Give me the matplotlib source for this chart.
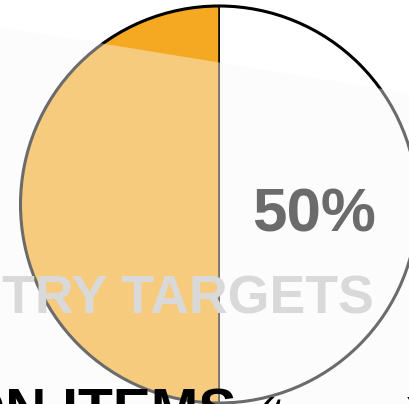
import matplotlib
matplotlib.use('Agg')
import matplotlib.pyplot as plt
from matplotlib.patches import Circle, Polygon

plt.rcParams['font.family'] = ['Liberation Sans', 'DejaVu Sans']

# share of the target that is met vs. still open
labels = ['met', 'open']
shares = [50, 50]
colors = ['#FFFFFF', '#F5A922']

title = 'TRY TARGETS'
footer = 'ACTION ITEMS'
footer_note = '(tonnes)'

W, H = 409, 404
fig = plt.figure(figsize=(W / 100, H / 100), dpi=100)
ax = fig.add_axes([0, 0, 1, 1])

cx, cy, r = 219, 404 - 204.5, 198.5
ax.pie(shares, colors=colors, startangle=90, counterclock=False,
       center=(cx, cy), radius=r,
       wedgeprops=dict(edgecolor='black', linewidth=1.1))
ax.add_patch(Circle((cx, cy), r, fill=False, edgecolor='black',
                    linewidth=2.2, zorder=2))

# light haze band over the lower part of the graphic
ax.add_patch(Polygon([(0, 377), (W, 310.7), (W, 0), (0, 0)],
                     closed=True, facecolor='#F9F9F9', edgecolor='none',
                     alpha=0.43, zorder=3))

ax.text(314, 172, f'{shares[0]}%', ha='center', va='baseline',
        fontsize=44.6, fontweight='bold', color='#6B6B6B', zorder=4)
ax.text(374, 90, title, ha='right', va='baseline',
        fontsize=38.6, fontweight='bold', color='#D9D9D9', zorder=4)
ax.text(237, -25, footer, ha='right', va='baseline',
        fontsize=41, fontweight='bold', color='black', zorder=4)
ax.text(256, -25, footer_note, ha='left', va='baseline',
        fontsize=32, fontstyle='italic', color='black', zorder=4)

ax.set_xlim(0, W)
ax.set_ylim(0, H)
ax.set_aspect('auto')
ax.axis('off')

fig.savefig('out.png', dpi=100, facecolor='white')
